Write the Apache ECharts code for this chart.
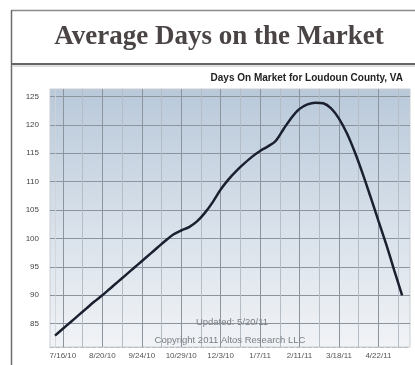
<!DOCTYPE html>
<html>
<head>
<meta charset="utf-8">
<script src="https://cdn.jsdelivr.net/npm/echarts@6/dist/echarts.min.js"></script>
<style>
  html, body { margin: 0; padding: 0; background: #ffffff; }
  #chart { width: 415px; height: 365px; }
</style>
</head>
<body>
<div id="chart"></div>
<script>
// Weekly average days on market (week index 0 = first sample)
const weeks = [0,1,2,3,4,5,6,7,8,9,10,11,12,13,14,15,16,17,18,19,20,21,22,23,24,25,26,27,28,29,30,31,32,33,34,35,36,37,38,39,40,41,42,43,44];
const daysOnMarket = [
  82.9, 84.1, 85.3, 86.5, 87.7, 88.9, 90.0, 91.2, 92.4, 93.6,
  94.8, 96.0, 97.2, 98.4, 99.6, 100.7, 101.4, 102.0, 103.0, 104.5,
  106.4, 108.6, 110.4, 111.9, 113.2, 114.4, 115.4, 116.2, 117.2, 119.3,
  121.3, 122.8, 123.6, 123.9, 123.8, 122.9, 121.1, 118.5, 115.2, 111.4,
  107.3, 103.1, 98.9, 94.4, 90.0
];
// Tick positions (week index) and their date labels
const xTickWeeks = [1, 6, 11, 16, 21, 26, 31, 36, 41];
const xTickLabels = ['7/16/10', '8/20/10', '9/24/10', '10/29/10', '12/3/10', '1/7/11', '2/11/11', '3/18/11', '4/22/11'];
const xMinorWeeks = [3.5, 8.5, 13.5, 18.5, 23.5, 28.5, 33.5, 38.5, 43.5];
const yTicks = [85, 90, 95, 100, 105, 110, 115, 120, 125];

const titleText = 'Average Days on the Market';
const chartSubtitle = 'Days On Market for Loudoun County, VA';
const noteUpdated = 'Updated: 5/20/11';
const noteCopyright = 'Copyright 2011 Altos Research LLC';

const chart = echarts.init(document.getElementById('chart'), null, { renderer: 'canvas' });

const points = weeks.map((w, i) => [w, daysOnMarket[i]]);

chart.setOption({
  animation: false,
  backgroundColor: '#ffffff',
  grid: {
    left: 50, right: 5, top: 89, bottom: 18,
    show: true,
    borderColor: '#c9cdd2',
    borderWidth: 1,
    backgroundColor: new echarts.graphic.LinearGradient(0, 0, 0, 1, [
      { offset: 0, color: '#b9c9da' },
      { offset: 0.5, color: '#d6dfe9' },
      { offset: 1, color: '#f1f3f6' }
    ])
  },
  xAxis: {
    type: 'value',
    min: -0.63,
    max: 45,
    axisLine: { show: true, lineStyle: { color: '#b8bcc2', type: 'dashed' } },
    axisTick: { show: false, customValues: xTickWeeks },
    axisLabel: {
      customValues: xTickWeeks,
      formatter: v => xTickLabels[xTickWeeks.indexOf(v)] || '',
      color: '#555', fontSize: 8, fontFamily: 'Liberation Sans', margin: 5
    },
    splitLine: { show: true, lineStyle: { color: '#8c949e', width: 1 } }
  },
  yAxis: {
    type: 'value',
    min: 80.9,
    max: 126.3,
    axisLine: { show: true, lineStyle: { color: '#d0d3d7', type: 'dotted' } },
    axisTick: { show: false, customValues: yTicks },
    axisLabel: {
      customValues: yTicks,
      color: '#444', fontSize: 8, fontFamily: 'Liberation Sans', margin: 11
    },
    splitLine: { show: true, lineStyle: { color: '#8c949e', width: 1 } }
  },
  series: [{
    type: 'line',
    data: points,
    smooth: 0.3,
    showSymbol: false,
    lineStyle: { color: '#1b2030', width: 2.5 },
    z: 5,
    markLine: {
      silent: true,
      symbol: 'none',
      label: { show: false },
      lineStyle: { color: '#b4bcc6', width: 1, type: 'solid' },
      data: xMinorWeeks.map(w => ({ xAxis: w }))
    }
  }],
  graphic: [
    // outer frame
    { type: 'line', shape: { x1: 11, y1: 10.5, x2: 415, y2: 10.5 }, style: { stroke: '#8a8a8a', lineWidth: 1.5 }, z: 100 },
    { type: 'line', shape: { x1: 11.5, y1: 10, x2: 11.5, y2: 365 }, style: { stroke: '#6e6e6e', lineWidth: 1.5 }, z: 100 },
    // heading separator
    { type: 'line', shape: { x1: 11, y1: 64, x2: 415, y2: 64 }, style: { stroke: '#666666', lineWidth: 2 }, z: 100 },
    { type: 'line', shape: { x1: 12, y1: 66, x2: 415, y2: 66 }, style: { stroke: '#d4d4d4', lineWidth: 1.5 }, z: 100 },
    // heading
    { type: 'text', x: 219, y: 37, z: 100, style: {
        text: titleText, fill: '#4a4444', font: 'bold 27px "Liberation Serif"',
        align: 'center', verticalAlign: 'middle' } },
    // chart caption
    { type: 'text', x: 403, y: 78, z: 100, style: {
        text: chartSubtitle, fill: '#222', font: 'bold 10px "Liberation Sans"',
        align: 'right', verticalAlign: 'middle' } },
    // notes inside plot
    { type: 'text', x: 232, y: 322, z: 50, style: {
        text: noteUpdated, fill: '#7a7e84', font: '9.5px "Liberation Sans"',
        align: 'center', verticalAlign: 'middle' } },
    { type: 'text', x: 230, y: 340, z: 50, style: {
        text: noteCopyright, fill: '#7a7e84', font: '9.5px "Liberation Sans"',
        align: 'center', verticalAlign: 'middle' } }
  ]
});
</script>
</body>
</html>
